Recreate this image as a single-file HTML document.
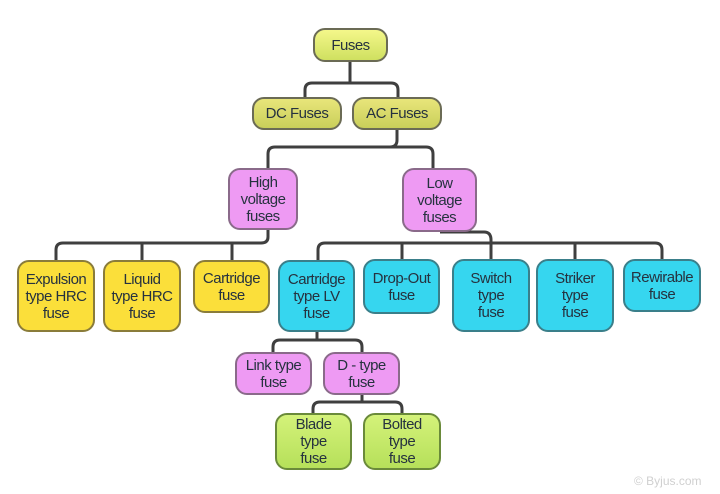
<!DOCTYPE html>
<html><head><style>
body{margin:0;width:720px;height:494px;background:#fff;position:relative;overflow:hidden;font-family:"Liberation Sans",sans-serif}
.b{position:absolute;box-sizing:border-box;border:2px solid #6b6b55;border-radius:12px;display:flex;align-items:center;justify-content:center;text-align:center;font-size:15px;line-height:17px;color:#26323f;letter-spacing:-0.5px}
.t{background:linear-gradient(#f4f78a,#cfe060)}
.a{background:linear-gradient(#e8e57a,#c9cf5a)}
.m{background:#ee9af3;border-color:#8a6a8a}
.y{background:#fbdf3a;border-color:#8a7c3a}
.c{background:#36d6ef;border-color:#3a7f8a}
.g{background:linear-gradient(#d4f27a,#b6e05a);border-color:#6a8a3a}
svg{position:absolute;left:0;top:0}
</style></head><body>
<svg width="720" height="494" fill="none" stroke="#3f3f3f" stroke-width="3">
<path d="M350 62V83M305 97V90Q305 83 312 83H391Q398 83 398 90V97"/>
<path d="M397 130V140Q397 147 390 147H275Q268 147 268 154V168M390 147H426Q433 147 433 154V168"/>
<path d="M268 230V237Q268 243 261 243H63Q56 243 56 250V260M142 243V260M232 243V260"/>
<path d="M440 232H484Q491 232 491 240V259M325 243H655Q662 243 662 250V259M325 243Q318 243 318 250V260M402 243V259M575 243V259"/>
<path d="M317 332V340M280 340H355Q362 340 362 347V352M280 340Q273 340 273 347V352"/>
<path d="M362 395V402M320 402H395Q402 402 402 409V413M320 402Q313 402 313 409V413"/>
</svg>
<div class="b t" style="left:313px;top:28px;width:75px;height:34px">Fuses</div>
<div class="b a" style="left:252px;top:97px;width:90px;height:33px">DC Fuses</div>
<div class="b a" style="left:352px;top:97px;width:90px;height:33px">AC Fuses</div>
<div class="b m" style="left:228px;top:168px;width:70px;height:62px">High<br>voltage<br>fuses</div>
<div class="b m" style="left:402px;top:168px;width:75px;height:64px">Low<br>voltage<br>fuses</div>
<div class="b y" style="left:17px;top:260px;width:78px;height:72px">Expulsion<br>type HRC<br>fuse</div>
<div class="b y" style="left:103px;top:260px;width:78px;height:72px">Liquid<br>type HRC<br>fuse</div>
<div class="b y" style="left:193px;top:260px;width:77px;height:53px">Cartridge<br>fuse</div>
<div class="b c" style="left:278px;top:260px;width:77px;height:72px">Cartridge<br>type LV<br>fuse</div>
<div class="b c" style="left:363px;top:259px;width:77px;height:55px">Drop-Out<br>fuse</div>
<div class="b c" style="left:452px;top:259px;width:78px;height:73px">Switch<br>type<br>fuse</div>
<div class="b c" style="left:536px;top:259px;width:78px;height:73px">Striker<br>type<br>fuse</div>
<div class="b c" style="left:623px;top:259px;width:78px;height:53px">Rewirable<br>fuse</div>
<div class="b m" style="left:235px;top:352px;width:77px;height:43px">Link type<br>fuse</div>
<div class="b m" style="left:323px;top:352px;width:77px;height:43px">D - type<br>fuse</div>
<div class="b g" style="left:275px;top:413px;width:77px;height:57px">Blade<br>type<br>fuse</div>
<div class="b g" style="left:363px;top:413px;width:78px;height:57px">Bolted<br>type<br>fuse</div>
<div style="position:absolute;left:634px;top:474px;font-size:12px;color:#d0d0d0">© Byjus.com</div>
</body></html>
